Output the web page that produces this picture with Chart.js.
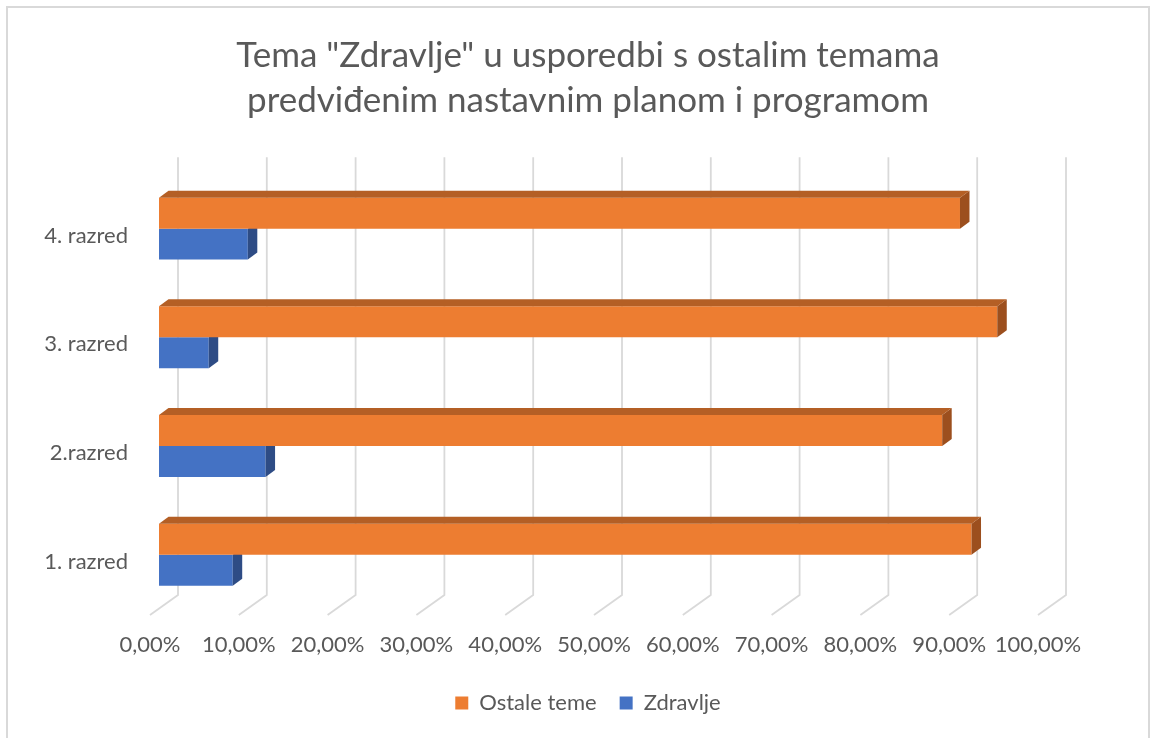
<!DOCTYPE html>
<html>
<head>
<meta charset="utf-8">
<title>Tema "Zdravlje"</title>
<script src="https://cdn.jsdelivr.net/npm/chart.js@4.4.1/dist/chart.umd.min.js"></script>
<style>
  body { margin: 0; background: #fff; }
  canvas { display: block; }
</style>
</head>
<body>
<canvas id="temeChart" width="1152" height="738"></canvas>
<script>
// Data (top row first)
const categories = ["4. razred", "3. razred", "2.razred", "1. razred"];
const ostaleTeme = [90.2, 94.4, 88.2, 91.5];
const zdravlje = [10.0, 5.6, 12.0, 8.3];
const tickLabels = [
  "0,00%", "10,00%", "20,00%", "30,00%", "40,00%", "50,00%",
  "60,00%", "70,00%", "80,00%", "90,00%", "100,00%",
];

const textColor = "#595959";
const gridColor = "#D9D9D9";
const frontColors = ["#ED7D31", "#4472C4"];
const topColors = ["#B45F25", "#2F5597"];
const sideColors = ["#9C4F1E", "#2E4C85"];

// fake 3D: bar depth, and how far back/front the wall planes sit
const DEPTH_X = 9.5;
const DEPTH_Y = -7;

const depth3d = {
  id: "depth3d",
  beforeDraw(chart) {
    const ctx = chart.ctx;
    ctx.save();
    ctx.fillStyle = "#fff";
    ctx.fillRect(0, 0, chart.width, chart.height);
    ctx.strokeStyle = gridColor;
    ctx.lineWidth = 2;
    ctx.strokeRect(7, 7, 1142, 760);
    ctx.restore();
  },
  beforeDatasetsDraw(chart) {
    const ctx = chart.ctx;
    const area = chart.chartArea;
    const x = chart.scales.x;
    ctx.save();
    ctx.strokeStyle = gridColor;
    ctx.lineWidth = 1.8;
    x.ticks.forEach((t) => {
      const px = x.getPixelForValue(t.value);
      ctx.beginPath();
      ctx.moveTo(px + 19, area.top - 17);
      ctx.lineTo(px + 19, area.bottom - 14);
      ctx.lineTo(px - 9, area.bottom + 6);
      ctx.stroke();
    });
    ctx.restore();
  },
  afterDatasetDraw(chart, args) {
    const ctx = chart.ctx;
    const i = args.index;
    ctx.save();
    args.meta.data.forEach((bar) => {
      const { x, y, base, height } = bar.getProps(["x", "y", "base", "height"], true);
      const top = y - height / 2;
      const bottom = y + height / 2;
      // right end face
      ctx.fillStyle = sideColors[i];
      ctx.beginPath();
      ctx.moveTo(x, top);
      ctx.lineTo(x + DEPTH_X, top + DEPTH_Y);
      ctx.lineTo(x + DEPTH_X, bottom + DEPTH_Y);
      ctx.lineTo(x, bottom);
      ctx.closePath();
      ctx.fill();
      // top face only shows on the upper bar of each group
      if (i === 0) {
        ctx.fillStyle = topColors[i];
        ctx.beginPath();
        ctx.moveTo(base, top);
        ctx.lineTo(x, top);
        ctx.lineTo(x + DEPTH_X, top + DEPTH_Y);
        ctx.lineTo(base + DEPTH_X, top + DEPTH_Y);
        ctx.closePath();
        ctx.fill();
      }
    });
    ctx.restore();
  },
};

Chart.defaults.font.family = "Lato, 'Open Sans', sans-serif";
Chart.defaults.color = textColor;

const ctx = document.getElementById("temeChart").getContext("2d");
const temeChart = new Chart(ctx, {
  type: "bar",
  data: {
    labels: categories,
    datasets: [
      {
        label: "Ostale teme",
        data: ostaleTeme,
        backgroundColor: frontColors[0],
        borderWidth: 0,
        barPercentage: 1,
        categoryPercentage: 0.57,
      },
      {
        label: "Zdravlje",
        data: zdravlje,
        backgroundColor: frontColors[1],
        borderWidth: 0,
        barPercentage: 1,
        categoryPercentage: 0.57,
      },
    ],
  },
  options: {
    indexAxis: "y",
    responsive: false,
    animation: false,
    layout: { padding: { top: 10, left: 24, right: 0, bottom: 14 } },
    scales: {
      x: {
        min: 0,
        max: 100,
        grid: { display: false, drawTicks: false },
        border: { display: false },
        ticks: {
          stepSize: 10,
          autoSkip: false,
          maxRotation: 0,
          padding: 23,
          labelOffset: -9,
          color: textColor,
          font: { size: 22 },
          callback: (v, i) => tickLabels[i],
        },
        afterFit: (s) => { s.height = 60; },
      },
      y: {
        grid: { display: false, drawTicks: false },
        border: { display: false },
        ticks: {
          padding: 31,
          labelOffset: 7,
          color: textColor,
          font: { size: 22 },
        },
        afterFit: (s) => { s.width = 135; },
      },
      // empty spacer on the right so the plot ends where the original does
      spacer: {
        type: "linear",
        position: "right",
        grid: { display: false, drawTicks: false },
        border: { display: false },
        ticks: { display: false },
        afterFit: (s) => { s.width = 105; },
      },
    },
    plugins: {
      title: {
        display: true,
        text: ['Tema "Zdravlje" u usporedbi s ostalim temama', "predviđenim nastavnim planom i programom"],
        color: textColor,
        font: { size: 35, weight: "normal", lineHeight: 1.29 },
        padding: { top: 23, bottom: 51 },
      },
      legend: {
        position: "bottom",
        labels: {
          color: textColor,
          font: { size: 22 },
          boxWidth: 13,
          boxHeight: 13,
          padding: 23,
        },
      },
      tooltip: { enabled: false },
    },
  },
  plugins: [depth3d],
});
</script>
</body>
</html>
